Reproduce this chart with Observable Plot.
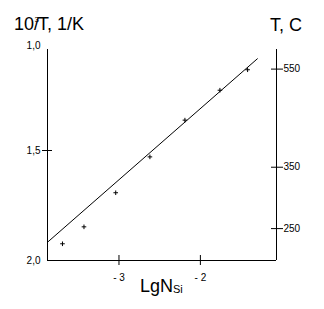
<!DOCTYPE html>
<html><head><meta charset="utf-8">
<script src="https://cdn.jsdelivr.net/npm/d3@7"></script>
<script src="https://cdn.jsdelivr.net/npm/@observablehq/plot@0.6"></script>
<style>
body{margin:0;background:#fff}
svg{font-family:"Liberation Sans",Arial,sans-serif}
</style>
</head><body><div id="chart"></div>
<script>
// measured points: lg N_Si vs 10^3/T
const lgN = [-3.694, -3.43, -3.04, -2.62, -2.19, -1.76, -1.42];
const invT = [1.924, 1.847, 1.692, 1.529, 1.362, 1.226, 1.133];
// fitted straight line end points
const fitX = [-3.878, -1.30];
const fitY = [1.917, 1.083];
// axes
const xDomain = [-3.878, -1.065];
const yDomain = [1.0, 2.0];
const frameTop = 1.041;
const xTicks = [-3, -2];
const yTicks = [1.0, 1.5, 2.0];
const tempLabels = [550, 350, 250];
const tempPos = [1.130, 1.576, 1.855];

const points = lgN.map((x, i) => ({x, y: invT[i]}));
const fit = fitX.map((x, i) => ({x, y: fitY[i]}));
const comma = d => d.toFixed(1).replace(".", ",");

const svg = Plot.plot({
  width: 324,
  height: 309,
  marginLeft: 47,
  marginRight: 48,
  marginTop: 40,
  marginBottom: 49,
  style: {fontSize: "10px", fontFamily: "Liberation Sans, Arial, sans-serif", color: "black", background: "white", overflow: "visible"},
  x: {domain: xDomain, axis: null, label: null},
  y: {domain: yDomain, reverse: true, axis: null, label: null},
  marks: [
    Plot.ruleX([xDomain[0], xDomain[1]], {y1: frameTop, y2: yDomain[1], stroke: "black", strokeWidth: 1}),
    Plot.ruleY([yDomain[1]], {stroke: "black", strokeWidth: 1}),
    Plot.line(fit, {x: "x", y: "y", stroke: "black", strokeWidth: 1}),
    Plot.dot(points, {x: "x", y: "y", symbol: "plus", r: 1.6, fill: "none", stroke: "black", strokeWidth: 1}),
    // left axis
    Plot.axisY([yTicks[1]], {anchor: "left", tickSize: 10, dx: 5, fill: "none", label: null}),
    Plot.axisY(yTicks.slice(1), {anchor: "left", tickSize: 0, tickPadding: 7, tickFormat: comma, label: null}),
    Plot.axisY([yTicks[0]], {anchor: "left", tickSize: 0, tickPadding: 7, dy: 5, tickFormat: comma, label: null}),
    // right axis (temperature, C)
    Plot.axisY(tempPos, {anchor: "right", tickSize: 12, dx: -6, tickPadding: 1, tickFormat: d => String(tempLabels[tempPos.indexOf(d)]), label: null}),
    // bottom axis
    Plot.axisX(xTicks, {anchor: "bottom", tickSize: 10, dy: -5, tickPadding: 8, tickFormat: d => "- " + Math.abs(d), label: null})
  ]
});

const s = d3.select(svg);
// left title: 10^3/T, 1/K
const t1 = s.append("text").attr("x", 14).attr("y", 30).attr("font-size", 18).attr("text-anchor", "start").attr("fill", "black");
t1.append("tspan").text("10");
t1.append("tspan").attr("font-size", 8).attr("dx", 0.5).attr("dy", -8).text("3");
t1.append("tspan").attr("dx", -5).attr("dy", 8).text("/");
t1.append("tspan").attr("dx", -1).text("T, 1/K");
// right title
s.append("text").attr("x", 270).attr("y", 31).attr("font-size", 18).attr("text-anchor", "start").attr("fill", "black").text("T, C");
// x label: LgN_Si
const t3 = s.append("text").attr("x", 140).attr("y", 292).attr("font-size", 18).attr("text-anchor", "start").attr("fill", "black");
t3.append("tspan").text("LgN");
t3.append("tspan").attr("font-size", 11).attr("dy", 1).text("Si");

document.getElementById("chart").appendChild(svg);
</script>
</body></html>
